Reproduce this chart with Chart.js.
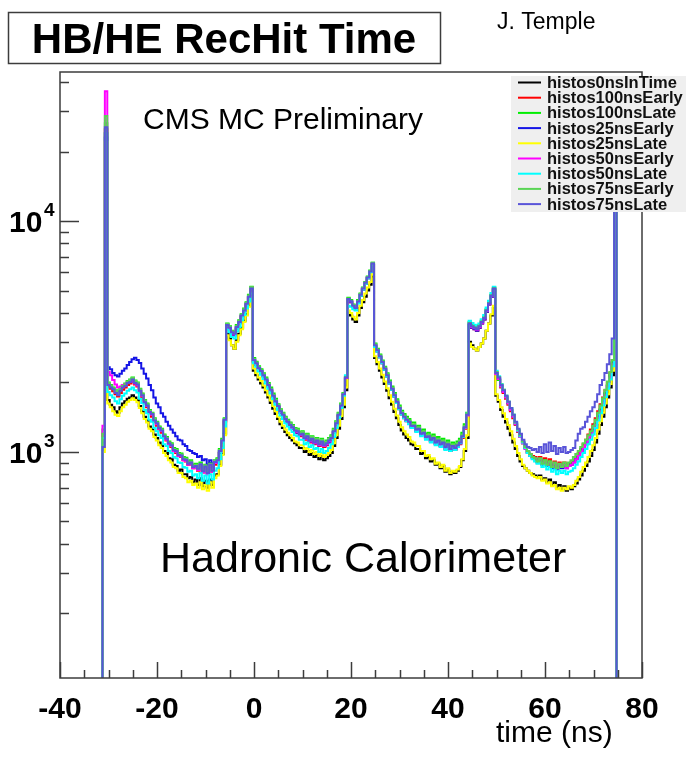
<!DOCTYPE html>
<html>
<head>
<meta charset="utf-8">
<title>HB/HE RecHit Time</title>
<script src="https://cdn.jsdelivr.net/npm/chart.js@4.4.0/dist/chart.umd.min.js"></script>
<style>
    html, body { margin: 0; padding: 0; background: #fff; }
    #wrap { width: 686px; height: 759px; }
</style>
</head>
<body>
<div id="wrap"><canvas id="timeChart" width="686" height="759"></canvas></div>
<script>
// Histogram binning: 0.5 ns bins, first filled bin starts at -31.25 ns
const binStart = -31.25;
const binWidth = 0.5;
const axisMin = -40;
const axisMax = 80;
const yMin = 105;
const yMax = 44200;
const emptyBin = 1; // empty bins fall below the log axis

const xTickLabels = [-40, -20, 0, 20, 40, 60, 80];
const yTickLabels = [{ value: 1000, exp: '3' }, { value: 10000, exp: '4' }];

const seriesNames = [
    'histos0nsInTime', 'histos100nsEarly', 'histos100nsLate', 'histos25nsEarly', 'histos25nsLate',
    'histos50nsEarly', 'histos50nsLate', 'histos75nsEarly', 'histos75nsLate'
];
const seriesColors = ['#000000', '#ff0000', '#00ee00', '#1414e6', '#ffff00', '#ff00ff', '#00ffff', '#59d454', '#5954d8'];

const histos0nsInTime = [1150, 24000,
    1680, 1600, 1560, 1500, 1480, 1560, 1620, 1660, 1700, 1720, 1760, 1720, 1680, 1580, 1500, 1420, 1370, 1290, 1260, 1190, 1150, 1100, 1070, 1010, 990, 940, 930, 880, 870, 830, 840, 800, 800, 770, 780, 740, 760, 720, 770, 710, 750, 700, 760, 720, 790, 800, 880, 980, 1200,
    3250, 3100, 2900, 2800, 3050, 3250, 3450, 3700, 3950, 4300, 4750,
    2250, 2150, 2060, 1980, 1900, 1810, 1720, 1630, 1540, 1460, 1390, 1320, 1270, 1220, 1180, 1150, 1120, 1090, 1070, 1040, 1040, 1000, 1010, 970, 990, 950, 970, 930, 960, 920, 940, 960, 990, 1060, 1150, 1260, 1390, 1560, 1850,
    4000, 3900, 3750, 3650, 3900, 4200, 4450, 4700, 5000, 5300, 5750,
    2550, 2400, 2250, 2100, 1970, 1840, 1710, 1600, 1490, 1400, 1310, 1240, 1190, 1150, 1120, 1080, 1070, 1030, 1030, 980, 990, 940, 950, 910, 920, 880, 890, 850, 870, 820, 840, 800, 820, 810, 830, 860, 920, 1010, 1150,
    3000, 2900, 2800, 2750, 2850, 2950, 3100, 3350, 3600, 3900, 4200,
    1750, 1650, 1520, 1420, 1340, 1260, 1180, 1100, 1030, 960, 910, 870, 850, 830, 810, 800, 790, 780, 790, 760, 770, 740, 760, 720, 740, 700, 720, 690, 710, 680, 700, 690, 710, 730, 760, 790, 830, 870, 910, 960, 1020, 1100, 1200, 1310, 1420, 1560, 1720, 1900, 2150,
    28000];

const histos100nsEarly = [1200, 25000,
    1920, 1880, 1830, 1780, 1740, 1800, 1860, 1900, 1950, 1980, 2010, 1960, 1920, 1810, 1720, 1620, 1560, 1470, 1420, 1350, 1300, 1250, 1210, 1150, 1120, 1080, 1050, 1010, 990, 960, 950, 920, 910, 880, 885, 850, 860, 830, 860, 815, 850, 800, 860, 820, 880, 910, 990, 1100, 1350,
    3500, 3400, 3250, 3200, 3420, 3600, 3850, 4050, 4320, 4650, 5050,
    2480, 2390, 2290, 2220, 2130, 2040, 1930, 1840, 1730, 1640, 1560, 1480, 1430, 1370, 1330, 1290, 1260, 1220, 1210, 1170, 1180, 1130, 1150, 1100, 1120, 1080, 1100, 1060, 1090, 1050, 1070, 1100, 1130, 1210, 1310, 1430, 1570, 1760, 2080,
    4550, 4450, 4250, 4150, 4420, 4750, 5050, 5350, 5650, 6000, 6500,
    2870, 2730, 2570, 2420, 2280, 2130, 1980, 1860, 1740, 1630, 1530, 1450, 1400, 1360, 1330, 1280, 1280, 1230, 1240, 1180, 1190, 1140, 1150, 1110, 1130, 1080, 1100, 1060, 1080, 1030, 1060, 1010, 1040, 1020, 1050, 1080, 1150, 1260, 1420,
    3550, 3450, 3400, 3350, 3450, 3600, 3750, 4050, 4350, 4700, 5050,
    2150, 2050, 1900, 1800, 1700, 1600, 1500, 1400, 1310, 1220, 1160, 1090, 1040, 1000, 980, 960, 950, 930, 950, 910, 940, 900, 930, 880, 910, 870, 900, 880, 900, 870, 890, 900, 920, 950, 990, 1030, 1080, 1130, 1190, 1250, 1320, 1400, 1500, 1610, 1720, 1850, 2000, 2200, 2500,
    30000];

const histos100nsLate = [1250, 26500,
    2000, 1950, 1900, 1850, 1820, 1880, 1940, 1980, 2030, 2060, 2100, 2040, 2000, 1880, 1790, 1680, 1620, 1520, 1480, 1400, 1350, 1290, 1260, 1190, 1160, 1110, 1090, 1040, 1030, 990, 985, 950, 945, 910, 920, 880, 890, 860, 900, 840, 880, 830, 895, 850, 920, 940, 1030, 1140, 1400,
    3600, 3500, 3350, 3300, 3550, 3720, 3950, 4180, 4450, 4800, 5200,
    2550, 2460, 2350, 2280, 2190, 2100, 1990, 1900, 1790, 1700, 1610, 1530, 1480, 1420, 1380, 1340, 1310, 1270, 1260, 1220, 1230, 1180, 1200, 1150, 1170, 1130, 1150, 1110, 1140, 1100, 1120, 1150, 1180, 1260, 1360, 1480, 1620, 1800, 2120,
    4650, 4550, 4350, 4250, 4550, 4850, 5150, 5450, 5750, 6100, 6600,
    2950, 2800, 2640, 2490, 2340, 2190, 2040, 1920, 1800, 1690, 1590, 1510, 1460, 1420, 1390, 1340, 1340, 1290, 1300, 1240, 1250, 1200, 1210, 1170, 1190, 1140, 1160, 1120, 1140, 1090, 1120, 1070, 1100, 1080, 1110, 1140, 1210, 1320, 1480,
    3650, 3550, 3500, 3450, 3550, 3700, 3850, 4150, 4450, 4800, 5150,
    2150, 2050, 1920, 1820, 1720, 1620, 1520, 1420, 1320, 1230, 1160, 1090, 1040, 1000, 970, 950, 930, 910, 930, 890, 920, 880, 910, 860, 890, 850, 880, 860, 890, 860, 880, 890, 910, 940, 970, 1000, 1040, 1080, 1130, 1180, 1250, 1330, 1430, 1530, 1650, 1800, 1950, 2150, 2450,
    30000];

const histos25nsEarly = [1100, 23000,
    2330, 2280, 2200, 2150, 2120, 2180, 2250, 2300, 2380, 2450, 2520, 2560, 2500, 2430, 2300, 2180, 2080, 1950, 1850, 1720, 1620, 1560, 1470, 1420, 1350, 1300, 1250, 1210, 1170, 1130, 1120, 1080, 1060, 1020, 1010, 990, 980, 950, 960, 920, 930, 880, 920, 860, 910, 900, 990, 1100, 1370,
    3500, 3400, 3250, 3200, 3450, 3620, 3870, 4080, 4350, 4680, 5050,
    2450, 2380, 2280, 2200, 2120, 2030, 1920, 1830, 1730, 1640, 1560, 1480, 1430, 1370, 1330, 1300, 1260, 1230, 1210, 1180, 1180, 1140, 1150, 1110, 1120, 1090, 1100, 1070, 1090, 1060, 1080, 1100, 1140, 1220, 1320, 1440, 1580, 1760, 2080,
    4550, 4450, 4250, 4150, 4450, 4750, 5050, 5350, 5650, 6000, 6450,
    2850, 2720, 2570, 2420, 2270, 2120, 1980, 1860, 1740, 1630, 1540, 1460, 1410, 1370, 1340, 1290, 1290, 1240, 1250, 1190, 1200, 1150, 1160, 1120, 1140, 1090, 1110, 1070, 1090, 1040, 1070, 1020, 1050, 1030, 1060, 1090, 1160, 1270, 1440,
    3550, 3450, 3400, 3350, 3450, 3600, 3750, 4050, 4350, 4700, 5050,
    2180, 2080, 1930, 1830, 1730, 1630, 1530, 1430, 1330, 1240, 1170, 1100, 1040, 990, 960, 940, 930, 900, 920, 880, 900, 870, 890, 850, 880, 840, 870, 850, 870, 850, 870, 880, 900, 930, 960, 1000, 1040, 1080, 1130, 1180, 1240, 1320, 1420, 1520, 1640, 1780, 1930, 2120, 2420,
    29000];

const histos25nsLate = [1000, 22000,
    1620, 1560, 1500, 1450, 1430, 1500, 1560, 1600, 1650, 1680, 1710, 1680, 1640, 1550, 1470, 1390, 1340, 1260, 1230, 1160, 1120, 1070, 1040, 990, 960, 920, 900, 860, 850, 810, 810, 780, 770, 740, 750, 720, 730, 700, 740, 690, 720, 680, 740, 700, 770, 790, 870, 970, 1180,
    3200, 3050, 2900, 2800, 3000, 3200, 3400, 3650, 3900, 4250, 4700,
    2300, 2200, 2100, 2030, 1940, 1850, 1760, 1670, 1580, 1500, 1420, 1350, 1300, 1250, 1210, 1180, 1150, 1110, 1100, 1070, 1070, 1030, 1040, 1000, 1020, 980, 1000, 960, 990, 950, 970, 990, 1020, 1090, 1180, 1300, 1430, 1600, 1900,
    4100, 4000, 3850, 3750, 4000, 4300, 4550, 4850, 5150, 5450, 5900,
    2600, 2450, 2300, 2160, 2020, 1890, 1760, 1650, 1540, 1440, 1350, 1280, 1230, 1190, 1160, 1110, 1100, 1060, 1060, 1010, 1010, 960, 970, 930, 940, 890, 900, 860, 880, 830, 850, 810, 830, 820, 840, 870, 930, 1030, 1180,
    2950, 2850, 2800, 2750, 2850, 2950, 3100, 3350, 3600, 3950, 4300,
    1780, 1680, 1560, 1470, 1390, 1310, 1230, 1140, 1060, 990, 930, 880, 850, 830, 810, 790, 780, 770, 780, 750, 760, 730, 740, 710, 720, 690, 700, 680, 700, 690, 710, 700, 720, 750, 780, 820, 860, 900, 950, 1010, 1070, 1150, 1250, 1360, 1480, 1620, 1780, 1970, 2250,
    28000];

const histos50nsEarly = [1300, 36500,
    2220, 2150, 2050, 1960, 1900, 1920, 1950, 1960, 2000, 2010, 2040, 1980, 1940, 1830, 1750, 1630, 1580, 1480, 1450, 1360, 1320, 1260, 1230, 1160, 1130, 1080, 1060, 1010, 1000, 960, 955, 920, 915, 880, 890, 850, 860, 835, 875, 815, 855, 800, 870, 820, 895, 910, 1000, 1110, 1370,
    3520, 3420, 3280, 3230, 3460, 3630, 3880, 4080, 4360, 4680, 5080,
    2490, 2400, 2300, 2230, 2140, 2050, 1940, 1850, 1740, 1650, 1570, 1490, 1440, 1380, 1340, 1300, 1270, 1230, 1220, 1180, 1190, 1140, 1160, 1110, 1130, 1090, 1110, 1070, 1100, 1060, 1080, 1110, 1140, 1220, 1320, 1440, 1580, 1770, 2090,
    4580, 4480, 4280, 4180, 4460, 4780, 5080, 5380, 5680, 6030, 6520,
    2880, 2740, 2580, 2430, 2290, 2140, 1990, 1870, 1750, 1640, 1540, 1460, 1410, 1370, 1340, 1290, 1290, 1240, 1250, 1190, 1200, 1150, 1160, 1120, 1140, 1090, 1110, 1070, 1090, 1040, 1070, 1020, 1050, 1030, 1060, 1090, 1160, 1270, 1440,
    3580, 3480, 3430, 3380, 3480, 3630, 3780, 4080, 4380, 4730, 5080,
    2170, 2070, 1920, 1820, 1720, 1620, 1520, 1420, 1320, 1230, 1160, 1090, 1030, 990, 970, 950, 940, 910, 930, 890, 910, 880, 900, 860, 890, 850, 880, 860, 880, 850, 870, 880, 900, 930, 960, 1000, 1040, 1080, 1120, 1170, 1230, 1310, 1400, 1500, 1620, 1760, 1920, 2100, 2400,
    32000];

const histos50nsLate = [1150, 24000,
    1820, 1760, 1720, 1660, 1620, 1690, 1750, 1790, 1840, 1870, 1900, 1850, 1810, 1700, 1630, 1520, 1470, 1380, 1350, 1270, 1230, 1180, 1150, 1080, 1060, 1010, 990, 950, 940, 900, 895, 860, 855, 820, 830, 790, 800, 770, 810, 750, 790, 730, 800, 760, 830, 850, 930, 1040, 1290,
    3400, 3300, 3150, 3100, 3320, 3480, 3720, 3920, 4180, 4480, 4850,
    2420, 2340, 2230, 2160, 2070, 1980, 1880, 1790, 1690, 1600, 1520, 1440, 1390, 1330, 1290, 1250, 1220, 1180, 1170, 1130, 1130, 1080, 1100, 1050, 1070, 1030, 1040, 1000, 1030, 990, 1010, 1040, 1080, 1160, 1270, 1400, 1550, 1750, 2150,
    4300, 4250, 4150, 4100, 4400, 4750, 5050, 5350, 5650, 6000, 6450,
    2850, 2720, 2570, 2420, 2270, 2120, 1980, 1860, 1740, 1630, 1530, 1450, 1400, 1360, 1320, 1270, 1270, 1220, 1230, 1170, 1180, 1130, 1140, 1100, 1120, 1070, 1090, 1050, 1070, 1020, 1050, 1010, 1040, 1020, 1050, 1090, 1160, 1280, 1470,
    3700, 3620, 3560, 3500, 3600, 3760, 3920, 4220, 4520, 4880, 5200,
    2250, 2130, 1970, 1860, 1750, 1650, 1550, 1450, 1340, 1240, 1170, 1100, 1040, 990, 960, 930, 910, 890, 900, 860, 880, 840, 860, 820, 840, 800, 830, 810, 830, 800, 820, 830, 850, 880, 910, 950, 990, 1030, 1080, 1130, 1190, 1270, 1370, 1470, 1590, 1730, 1880, 2060, 2350,
    30000];

const histos75nsEarly = [1200, 28500,
    1990, 1940, 1890, 1840, 1800, 1870, 1930, 1960, 2020, 2050, 2090, 2030, 1990, 1870, 1780, 1670, 1610, 1510, 1470, 1390, 1340, 1280, 1250, 1180, 1150, 1100, 1080, 1030, 1020, 980, 975, 940, 935, 900, 910, 870, 880, 850, 890, 835, 875, 820, 890, 840, 915, 930, 1020, 1130, 1390,
    3580, 3480, 3330, 3280, 3520, 3690, 3930, 4150, 4420, 4760, 5180,
    2530, 2440, 2330, 2260, 2170, 2080, 1970, 1880, 1770, 1680, 1600, 1520, 1470, 1410, 1370, 1330, 1300, 1260, 1250, 1210, 1220, 1170, 1190, 1140, 1160, 1120, 1140, 1100, 1130, 1090, 1110, 1140, 1170, 1250, 1350, 1470, 1610, 1790, 2110,
    4620, 4520, 4330, 4230, 4520, 4830, 5130, 5430, 5730, 6080, 6600,
    2930, 2780, 2620, 2470, 2320, 2170, 2020, 1900, 1780, 1670, 1570, 1490, 1440, 1400, 1370, 1320, 1320, 1270, 1280, 1220, 1230, 1180, 1190, 1150, 1170, 1120, 1140, 1100, 1120, 1070, 1100, 1050, 1080, 1060, 1090, 1120, 1190, 1300, 1470,
    3620, 3520, 3470, 3420, 3520, 3670, 3820, 4120, 4420, 4770, 5120,
    2220, 2110, 1960, 1860, 1750, 1650, 1550, 1450, 1340, 1250, 1180, 1110, 1050, 1010, 980, 950, 940, 910, 940, 890, 920, 880, 910, 860, 900, 850, 890, 860, 900, 870, 900, 920, 950, 980, 1010, 1050, 1090, 1130, 1180, 1230, 1300, 1380, 1480, 1590, 1710, 1860, 2020, 2220, 2500,
    30000];

const histos75nsLate = [1050, 25500,
    1950, 1900, 1870, 1800, 1760, 1840, 1900, 1930, 1990, 2010, 2060, 1990, 1960, 1840, 1760, 1640, 1590, 1490, 1460, 1370, 1330, 1270, 1240, 1170, 1140, 1090, 1070, 1020, 1010, 970, 965, 930, 925, 890, 900, 860, 870, 845, 885, 825, 865, 810, 880, 830, 905, 920, 1010, 1120, 1380,
    3550, 3450, 3300, 3250, 3480, 3650, 3900, 4100, 4380, 4700, 5100,
    2500, 2420, 2310, 2240, 2150, 2060, 1950, 1860, 1750, 1660, 1580, 1500, 1450, 1390, 1350, 1310, 1280, 1240, 1230, 1190, 1200, 1150, 1170, 1120, 1140, 1100, 1120, 1080, 1110, 1070, 1090, 1120, 1150, 1230, 1330, 1450, 1590, 1780, 2100,
    4600, 4500, 4300, 4200, 4480, 4800, 5100, 5400, 5700, 6050, 6550,
    2900, 2760, 2600, 2450, 2300, 2150, 2000, 1880, 1760, 1650, 1550, 1470, 1420, 1380, 1350, 1300, 1300, 1250, 1260, 1200, 1210, 1160, 1170, 1130, 1150, 1100, 1120, 1080, 1100, 1050, 1080, 1030, 1060, 1040, 1070, 1100, 1170, 1280, 1450,
    3600, 3500, 3450, 3400, 3500, 3650, 3800, 4100, 4400, 4750, 5100,
    2200, 2100, 1950, 1850, 1750, 1650, 1550, 1450, 1350, 1260, 1200, 1130, 1080, 1050, 1040, 1020, 1030, 1000, 1050, 990, 1080, 1000, 1100, 1010, 1060, 980, 1040, 1000, 1050, 990, 1000, 1020, 1040, 1120, 1200, 1260, 1280, 1350, 1420, 1500, 1560, 1650, 1780, 1950, 2050, 2200, 2400, 2650, 3100,
    31000];

const seriesValues = [
    histos0nsInTime, histos100nsEarly, histos100nsLate, histos25nsEarly, histos25nsLate,
    histos50nsEarly, histos50nsLate, histos75nsEarly, histos75nsLate
];

// bin contents -> step points, with empty bins padded out to the axis ends
function toPoints(values) {
    const pts = [{ x: axisMin, y: emptyBin }];
    values.forEach((v, i) => pts.push({ x: binStart + i * binWidth, y: v }));
    pts.push({ x: binStart + values.length * binWidth, y: emptyBin });
    pts.push({ x: axisMax, y: emptyBin });
    return pts;
}

const datasets = seriesValues.map((values, i) => ({
    label: seriesNames[i],
    data: toPoints(values),
    borderColor: seriesColors[i],
    borderWidth: 2,
    stepped: true,
    pointRadius: 0,
    fill: false,
    // last histogram is drawn on top, like the ROOT "same" overlay
    order: seriesNames.length - 1 - i
}));

const FONT = '"Liberation Sans", Arial, Helvetica, sans-serif';

const rootStyle = {
    id: 'rootStyle',
    beforeDraw(chart) {
        const ctx = chart.ctx;
        ctx.save();
        ctx.fillStyle = '#fff';
        ctx.fillRect(0, 0, chart.width, chart.height);
        ctx.restore();
    },
    afterDatasetsDraw(chart) {
        const { ctx, chartArea: area, scales: { x, y } } = chart;
        ctx.save();

        // frame
        ctx.strokeStyle = '#3c3c3c';
        ctx.lineWidth = 1.5;
        ctx.strokeRect(area.left, area.top, area.right - area.left, area.bottom - area.top);

        // x ticks, every 5 ns, long ones at the labels
        ctx.beginPath();
        for (let v = axisMin; v <= axisMax; v += 5) {
            const px = Math.round(x.getPixelForValue(v)) + 0.5;
            const len = v % 20 === 0 ? 16 : 8;
            ctx.moveTo(px, area.bottom);
            ctx.lineTo(px, area.bottom - len);
        }
        // y ticks, log decades
        for (let dec = 100; dec <= 10000; dec *= 10) {
            for (let m = 1; m <= 9; m++) {
                const v = m * dec;
                if (v < yMin || v > yMax) continue;
                const py = Math.round(y.getPixelForValue(v)) + 0.5;
                ctx.moveTo(area.left, py);
                ctx.lineTo(area.left + (m === 1 ? 19 : 9), py);
            }
        }
        ctx.stroke();

        // tick labels
        ctx.fillStyle = '#000';
        ctx.font = 'bold 30px ' + FONT;
        ctx.textAlign = 'center';
        ctx.textBaseline = 'alphabetic';
        xTickLabels.forEach(v => {
            ctx.fillText(String(v), x.getPixelForValue(v), 718);
        });
        yTickLabels.forEach(t => {
            const py = y.getPixelForValue(t.value);
            ctx.font = 'bold 30px ' + FONT;
            ctx.textAlign = 'left';
            ctx.fillText('10', 9, py + 11);
            ctx.font = 'bold 19px ' + FONT;
            ctx.fillText(t.exp, 44, py - 5);
        });

        // legend box
        ctx.fillStyle = '#efefef';
        ctx.fillRect(511, 76, 200, 136);
        ctx.font = 'bold 16.5px ' + FONT;
        ctx.textAlign = 'left';
        ctx.textBaseline = 'middle';
        seriesNames.forEach((name, i) => {
            const ly = 82.5 + i * 15.2;
            ctx.strokeStyle = seriesColors[i];
            ctx.lineWidth = 2;
            ctx.beginPath();
            ctx.moveTo(518, ly);
            ctx.lineTo(541, ly);
            ctx.stroke();
            ctx.fillStyle = '#111';
            ctx.fillText(name, 547, ly + 1);
        });

        // text labels
        ctx.textBaseline = 'alphabetic';
        ctx.fillStyle = '#000';
        ctx.font = '30px ' + FONT;
        ctx.fillText('CMS MC Preliminary', 143, 129);
        ctx.font = '43px ' + FONT;
        ctx.fillText('Hadronic Calorimeter', 160, 572);
        ctx.font = '30px ' + FONT;
        ctx.fillText('time (ns)', 496, 742);

        // title box
        ctx.strokeStyle = '#3c3c3c';
        ctx.lineWidth = 1.5;
        ctx.strokeRect(8.5, 12.5, 432, 51);
        ctx.font = 'bold 42px ' + FONT;
        ctx.textAlign = 'center';
        ctx.fillText('HB/HE RecHit Time', 224, 53);

        ctx.font = '23px ' + FONT;
        ctx.textAlign = 'left';
        ctx.fillText('J. Temple', 497, 29);

        ctx.restore();
    }
};

new Chart(document.getElementById('timeChart'), {
    type: 'line',
    data: { datasets },
    options: {
        responsive: false,
        devicePixelRatio: 1,
        animation: false,
        layout: { padding: { left: 60, right: 44, top: 72, bottom: 81 } },
        plugins: { legend: { display: false }, tooltip: { enabled: false } },
        elements: { line: { tension: 0 } },
        scales: {
            x: {
                type: 'linear',
                min: axisMin,
                max: axisMax,
                ticks: { display: false },
                grid: { display: false, drawTicks: false },
                border: { display: false },
                afterFit: s => { s.height = 0; }
            },
            y: {
                type: 'logarithmic',
                min: yMin,
                max: yMax,
                ticks: { display: false },
                grid: { display: false, drawTicks: false },
                border: { display: false },
                afterFit: s => { s.width = 0; }
            }
        }
    },
    plugins: [rootStyle]
});
</script>
</body>
</html>
